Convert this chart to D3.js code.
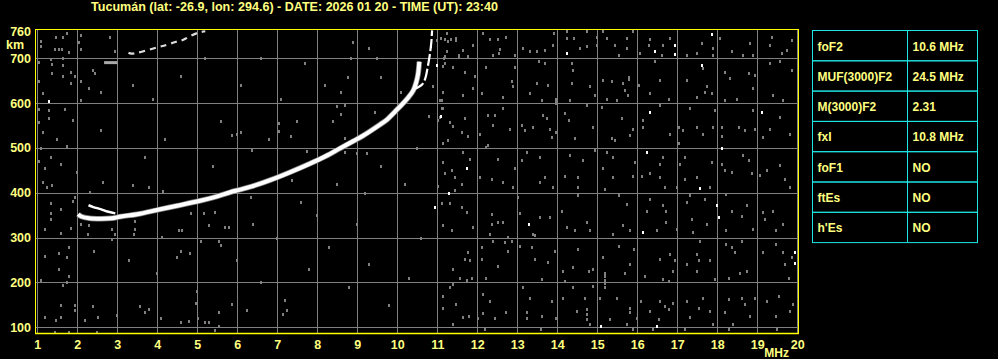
<!DOCTYPE html>
<html>
<head>
<meta charset="utf-8">
<script src="https://cdn.jsdelivr.net/npm/d3@7"></script>
<style>
  body { margin: 0; background: #000; }
  svg { display: block; }
  text { font-family: "Liberation Sans", Arial, sans-serif; font-weight: bold; }
</style>
</head>
<body>
<svg width="998" height="359"></svg>
<script>
// ionogram: Tucuman, 2026-01-20 23:40 UT
var title = "Tucumán (lat: -26.9, lon: 294.6) - DATE: 2026 01 20 - TIME (UT): 23:40";

var xTicks = d3.range(1, 21);                     // MHz
var yTicks = [100, 200, 300, 400, 500, 600, 700]; // km

var paramNames  = ["foF2", "MUF(3000)F2", "M(3000)F2", "fxI", "foF1", "ftEs", "h'Es"];
var paramValues = ["10.6 MHz", "24.5 MHz", "2.31", "10.8 MHz", "NO", "NO", "NO"];

// F2 ordinary trace [MHz, km]
var traceO = [[2.02,352],[2.1,347],[2.3,343],[2.6,342],[2.86,343],[3.1,347],[3.5,352],[4.07,363],
  [4.5,371],[5.07,382],[5.5,392],[5.82,401],[6.07,407],[6.5,418],[6.82,428],[7.3,445],[7.82,465],
  [8.2,481],[8.57,499],[8.9,515],[9.16,528],[9.57,552],[9.73,562],[9.99,585],[10.28,613],
  [10.4,628],[10.47,645],[10.52,665],[10.55,692]];
// extraordinary trace pieces
var traceXlow = [[2.28,372],[2.4,368],[2.6,363],[2.75,358],[2.95,354]];
var traceXhigh = [[10.4,630],[10.5,634],[10.62,641],[10.7,655],[10.75,675],[10.79,695],[10.82,712],[10.85,735],[10.87,762]];
// second hop
var hop2 = [[3.28,712],[3.36,710],[4.0,724],[4.25,730],[4.45,736],[4.6,739],[4.8,748],[5.0,756],[5.2,760]];
var hop2blob = [[2.67,690],[3.0,690]];

// scattered echoes / noise [MHz, km]
var noise = [
  [1.08,739],[1.08,726],[1.48,748],[1.64,748],[1.73,757],[1.45,720],[1.55,720],[1.62,720],[1.78,713],
  [1.05,692],[1.34,697],[1.38,686],[1.65,701],[1.65,684],[1.84,668],[1.95,660],[1.05,648],[1.38,666],
  [1.64,661],[1.83,644],[1.14,623],[1.05,586],[1.3,584],[1.68,586],[1.03,558],[1.3,567],[1.89,562],
  [2.59,540],[1.14,535],[2.08,752],[2.04,735],[2.08,720],[2.82,747],[2.94,715],[2.39,674],[2.44,666],
  [2.1,648],[2.3,633],[2.59,625],[2.08,607],
  [1.19,122],[1.48,116],[1.58,150],[1.58,122],[1.44,89],[1.79,89],[1.95,150],[1.95,138],[2.2,116],
  [2.39,147],[2.53,124],[2.48,89],[2.98,127],[3.57,147],[3.69,134],[3.79,140],[4.09,121],[4.58,111],
  [4.78,114],[5.03,120],[5.2,111],[5.3,111],[4.97,154],[5.44,95],[5.53,133],[5.53,102],[5.88,151],
  [6.23,138],[7.13,129],[7.23,138],
  [5.88,529],[5.99,532],[6.09,536],[7.03,555],[7.03,537],[7.33,527],[6.38,495],[7.73,494],[8.69,523],
  [8.69,491],[8.98,488],[9.24,488],[7.36,428],[6.33,391],
  [8.89,735],[9.29,722],[8.84,700],[8.78,657],[9.59,657],[8.59,625],[10.08,625],[8.49,594],[8.69,596],
  [9.44,581],[8.59,575],[10.79,571],[10.88,639],[11.03,562],
  [11.0,741],[11.23,756],[11.26,739],[11.48,741],[11.23,717],[11.18,700],[11.54,702],[11.38,680],
  [11.13,683],[11.11,607],[11.15,588],[11.07,569],[10.78,571],[11.32,558],[11.38,549],
  [1.13,424],[1.23,413],[1.38,418],[2.32,402],[2.65,424],[3.4,417],[3.78,413],[4.15,404],[1.94,391],
  [1.88,382],[1.34,378],[1.59,363],[1.34,355],[1.34,342],[1.19,320],[1.84,322],[1.59,311],[2.08,330],
  [2.29,329],[2.28,308],[2.88,320],[2.94,308],[3.44,337],[3.44,320],[4.53,318],[4.63,318],[4.84,355],
  [5.17,355],[5.29,329],[5.44,357],[5.09,292],[5.55,292],[5.69,324],[5.8,324],[5.59,283],[4.58,270],
  [4.48,257],[4.83,266],[4.11,302],[3.42,307],[2.88,296],[2.42,270],[1.78,279],[1.53,266],[1.73,256],
  [1.1,500],[1.35,480],[1.6,465],[1.2,455],[1.5,520],[1.75,505],[1.05,470],[1.2,260],[1.55,230],
  [1.1,205],[1.8,215],[1.65,195],[1.75,200],[2.0,446],
  [3.4,640],[3.9,610],[4.6,660],[5.2,700],[5.6,560],[6.1,640],[6.6,700],[7.1,610],[7.7,690],[8.2,640],
  [8.4,560],[9.5,700],[7.5,560],[4.2,520],[3.7,480],[5.4,460],[6.8,520],[3.3,250],[4.0,220],[5.0,180],
  [6.0,250],[6.6,200],[7.2,160],[7.8,230],[8.3,280],[8.8,190],[9.3,240],[9.8,150],[10.3,210],[10.6,300],
  [9.0,330],[8.0,350],[7.0,300],[6.4,330],[10.2,420],[9.6,460],[10.5,500],[9.2,400],[8.5,420],[7.6,380],
  // 11 - 20 MHz
  [11.1,745],[11.2,742],[11.33,742],[11.48,745],[11.54,707],[11.19,704],[11.55,704],[11.78,704],[11.9,730],
  [11.65,719],[12.15,756],[12.32,742],[12.53,742],[12.57,720],[12.4,707],[12.54,711],[12.73,748],
  [12.94,707],[13.13,722],[13.32,715],[13.48,715],[13.69,719],[13.88,730],[13.92,756],[14.23,760],
  [14.23,745],[14.42,745],[14.57,722],[14.75,726],[14.98,730],[14.98,748],[14.73,760],[15.13,760],
  [15.23,745],[15.44,730],[15.73,722],[15.54,707],[15.73,745],[15.9,760],[16.08,711],[16.28,730],
  [16.65,730],[16.61,707],[16.82,745],[16.32,742],[17.23,707],[17.48,711],[17.61,734],[17.9,722],
  [17.9,707],[18.08,745],[18.36,715],[18.82,734],[18.88,707],[18.65,707],[19.32,730],[19.38,748],
  [19.61,711],[19.73,719],[19.86,741],
  [11.19,689],[11.38,680],[11.69,670],[11.94,660],[11.88,633],[11.15,625],[11.07,607],[11.65,618],
  [12.23,680],[12.11,622],[12.86,648],[12.9,637],[12.94,681],[12.65,614],[13.53,693],[13.69,689],
  [13.48,644],[13.78,640],[13.32,622],[13.61,607],[13.98,610],[13.98,604],[13.98,599],[14.36,689],
  [14.4,674],[14.36,644],[14.32,607],[14.82,637],[14.94,618],[15.15,652],[15.36,648],[15.65,644],
  [15.8,659],[15.8,654],[15.68,629],[15.78,618],[15.23,610],[15.48,607],[16.03,640],[16.32,622],
  [16.44,693],[16.78,610],[16.57,652],[17.23,652],[17.48,614],[17.69,625],[17.73,637],[17.88,622],
  [17.65,678],[18.19,670],[18.32,655],[18.78,666],[18.94,663],[18.9,633],[18.48,610],[18.19,607],
  [19.4,618],[19.65,607],[19.33,689],[19.57,693],[19.88,674],
  [11.11,588],[11.32,558],[11.69,566],[11.61,536],[11.78,526],[11.28,517],[11.15,510],[12.28,573],
  [12.44,573],[12.38,551],[12.65,588],[12.28,506],[12.07,532],[12.82,543],[13.11,551],[13.19,540],
  [13.4,547],[13.65,573],[13.73,566],[13.86,525],[13.82,543],[13.98,536],[14.19,577],[14.28,562],
  [14.44,521],[14.73,596],[14.9,547],[15.11,592],[15.36,521],[15.44,517],[15.61,566],[15.82,528],
  [15.9,543],[16.15,562],[16.15,547],[16.82,532],[16.57,596],[17.03,547],[17.03,510],[17.48,547],
  [17.65,532],[17.32,588],[17.15,540],[17.9,547],[17.94,584],[18.13,547],[18.11,526],[18.53,547],
  [18.69,540],[18.9,584],[18.94,543],[19.15,525],[19.32,543],[19.57,569],[19.82,532],
  [11.15,469],[11.19,443],[11.36,450],[11.44,435],[11.65,491],[11.82,476],[11.44,405],[11.03,416],
  [11.61,420],[12.07,435],[12.36,431],[12.53,476],[12.65,424],[12.94,454],[12.23,502],[12.9,413],
  [13.11,472],[13.23,491],[13.57,480],[13.69,435],[13.9,413],[13.57,424],[14.19,437],[14.32,484],
  [14.53,435],[14.65,472],[14.94,495],[14.53,413],[15.15,454],[15.23,491],[15.4,480],[15.4,435],
  [15.94,469],[15.9,437],[15.19,409],[16.11,437],[16.32,443],[16.57,465],[16.57,435],[16.69,413],
  [16.98,413],[16.65,480],[17.19,480],[17.19,431],[17.07,465],[17.48,435],[17.82,413],[17.86,469],
  [18.11,465],[18.19,450],[18.36,446],[18.65,484],[18.86,443],[18.78,472],[19.07,439],[19.23,450],
  [19.57,461],[19.69,431],[19.82,413],
  [11.11,377],[11.32,377],[11.61,368],[11.73,357],[11.9,323],[11.36,317],[11.15,327],[12.36,353],
  [12.36,331],[12.53,334],[12.32,308],[12.78,301],[12.65,334],[13.03,390],[13.07,355],[13.4,308],
  [13.57,346],[13.82,346],[13.44,305],[14.11,360],[14.23,323],[14.44,316],[14.53,394],[14.82,316],
  [14.73,334],[15.4,308],[15.53,394],[15.65,327],[15.82,316],[15.73,375],[16.23,360],[16.32,387],
  [16.65,372],[16.73,360],[16.73,334],[16.48,316],[16.98,320],[17.36,342],[17.23,379],[17.32,394],
  [17.73,331],[17.69,387],[17.4,312],[18.23,317],[18.36,360],[18.61,349],[18.73,372],[18.9,319],
  [18.23,398],[19.15,357],[19.19,342],[19.4,360],[19.65,331],[19.48,316],
  [11.69,252],[11.78,267],[11.82,249],[11.4,230],[11.57,211],[11.73,205],[11.86,211],[11.4,196],
  [12.11,278],[12.4,293],[12.69,290],[12.78,271],[12.86,293],[12.23,211],[12.11,252],[12.53,237],
  [13.07,282],[13.36,280],[13.44,252],[13.78,245],[13.94,271],[13.61,207],[14.15,226],[14.19,204],
  [14.4,234],[14.53,275],[14.78,226],[14.9,230],[14.9,193],[15.19,222],[15.19,214],[15.19,206],
  [15.19,198],[15.19,190],[15.13,256],[15.53,282],[15.82,241],[15.92,275],[15.69,222],[16.19,215],
  [16.57,252],[16.82,263],[16.94,249],[16.9,226],[16.65,207],[16.8,204],[17.23,241],[17.48,263],
  [17.53,249],[17.48,226],[17.82,249],[17.94,207],[17.57,293],[18.23,286],[18.36,278],[18.44,267],
  [18.61,293],[18.73,226],[18.57,222],[18.28,211],[19.15,267],[19.48,286],[19.65,267],[19.69,241],
  [19.86,256],[19.78,211],
  [11.15,170],[11.32,189],[11.48,152],[11.65,123],[11.8,125],[11.4,107],[11.15,144],[12.15,174],
  [12.03,120],[12.15,131],[12.44,120],[12.73,133],[12.32,159],[13.15,189],[13.32,166],[13.23,133],
  [13.23,120],[13.61,125],[13.86,159],[13.98,120],[14.15,166],[14.4,189],[14.69,166],[14.73,140],
  [14.73,130],[14.73,118],[14.82,107],[14.48,137],[15.07,166],[15.32,118],[15.48,166],[15.82,144],
  [15.82,133],[15.73,107],[15.98,120],[16.09,159],[16.32,137],[16.57,159],[16.69,148],[16.78,140],
  [16.9,155],[16.53,118],[17.23,159],[17.32,122],[17.53,144],[17.65,166],[17.82,137],[17.9,107],
  [18.19,133],[18.28,163],[18.4,107],[18.61,166],[18.69,152],[18.94,166],[18.82,125],[19.23,159],
  [19.53,170],[19.48,125],[19.82,137],[19.9,152],
  [15.9,96],[16.4,97],[17.2,96],[18.3,96],[19.5,96],[12.2,97],[13.6,97]
];
// brighter single echoes
var bright = [[10.84,726],[10.98,684],[11.09,571],[11.73,455],[11.29,400],[10.93,368],[13.29,331],
  [14.23,711],[16.44,717],[16.94,730],[16.94,709],[17.88,754],[17.63,684],[16.33,579],[19.13,579],
  [16.23,490],[18.13,500],[17.58,411],[17.98,372],[18.03,346],[16.13,313],[19.94,267],[19.94,243],
  [15.08,104],[16.48,103],[1.3,604]];

var svg = d3.select("svg");
var plot = {left: 36, top: 29, right: 798, bottom: 333};

var x = d3.scaleLinear().domain([1, 20]).range([37.3, 797.3]);
var y = d3.scaleLinear().domain([100, 600]).range([327.3, 103]);

var yellow = "#ffff80";

svg.append("text")
    .attr("x", 91).attr("y", 11)
    .attr("fill", yellow).attr("font-size", 12)
    .attr("textLength", 407).attr("lengthAdjust", "spacingAndGlyphs")
    .text(title);

// grid
var grid = svg.append("g").attr("stroke", "#808080").attr("stroke-width", 1)
    .attr("shape-rendering", "crispEdges");
grid.selectAll(".vx").data(xTicks).enter().append("line")
    .attr("x1", function(d) { return Math.round(x(d)) + 0.5; })
    .attr("x2", function(d) { return Math.round(x(d)) + 0.5; })
    .attr("y1", plot.top).attr("y2", plot.bottom);
grid.selectAll(".hy").data(yTicks).enter().append("line")
    .attr("y1", function(d) { return Math.round(y(d)) + 0.5; })
    .attr("y2", function(d) { return Math.round(y(d)) + 0.5; })
    .attr("x1", plot.left).attr("x2", plot.right);

// noise
svg.append("g").attr("fill", "#808080").attr("shape-rendering", "crispEdges")
  .selectAll("rect").data(noise).enter().append("rect")
    .attr("x", function(d) { return Math.round(x(d[0])) - 1; })
    .attr("y", function(d) { return Math.round(y(d[1])) - 1; })
    .attr("width", 2).attr("height", 3);
svg.append("g").attr("fill", "#ffffff").attr("shape-rendering", "crispEdges")
  .selectAll("rect").data(bright).enter().append("rect")
    .attr("x", function(d) { return Math.round(x(d[0])) - 1; })
    .attr("y", function(d) { return Math.round(y(d[1])) - 1; })
    .attr("width", 2).attr("height", 3);

// traces
var line = d3.line().x(function(d) { return x(d[0]); }).y(function(d) { return y(d[1]); });
var lineY = d3.line().x(function(d) { return x(d[0]); }).y(function(d) { return y(d[1]); })
    .curve(d3.curveCatmullRom);

svg.append("path").datum(traceO).attr("d", lineY)
    .attr("fill", "none").attr("stroke", "#808080").attr("stroke-width", 5.5);
svg.append("path").datum(traceO).attr("d", lineY)
    .attr("fill", "none").attr("stroke", "#fff").attr("stroke-width", 4);
svg.append("path").datum(traceXlow).attr("d", lineY)
    .attr("fill", "none").attr("stroke", "#fff").attr("stroke-width", 2.5);
svg.append("path").datum(traceXhigh).attr("d", lineY)
    .attr("fill", "none").attr("stroke", "#fff").attr("stroke-width", 2.2)
    .attr("stroke-dasharray", "12,3");
svg.append("path").datum(hop2).attr("d", lineY)
    .attr("fill", "none").attr("stroke", "#ddd").attr("stroke-width", 2.2)
    .attr("stroke-dasharray", "6,5");
svg.append("path").datum(hop2blob).attr("d", line)
    .attr("fill", "none").attr("stroke", "#aaa").attr("stroke-width", 3);

// frame
svg.append("rect")
    .attr("x", plot.left - 0.5).attr("y", plot.top + 0.5)
    .attr("width", plot.right - plot.left + 0.5).attr("height", plot.bottom - plot.top)
    .attr("fill", "none").attr("stroke", "#ffff00").attr("stroke-width", 1)
    .attr("shape-rendering", "crispEdges");
svg.append("line")
    .attr("x1", plot.left - 1).attr("x2", plot.right + 0.5)
    .attr("y1", plot.bottom + 0.5).attr("y2", plot.bottom + 0.5)
    .attr("stroke", "#ffff00").attr("stroke-width", 1.5);

// axes
var yAxis = svg.append("g")
    .attr("transform", "translate(" + plot.left + ",0)")
    .call(d3.axisLeft(y).tickValues(yTicks.concat([760])).tickSize(0).tickPadding(5));
var xAxis = svg.append("g")
    .attr("transform", "translate(0," + plot.bottom + ")")
    .call(d3.axisBottom(x).tickValues(xTicks).tickSize(0).tickPadding(7).tickFormat(d3.format("d")));
[yAxis, xAxis].forEach(function(a) {
  a.select(".domain").remove();
  a.selectAll("text").attr("fill", yellow).attr("font-size", 12.5)
      .attr("font-family", "Liberation Sans, Arial, sans-serif").attr("font-weight", "bold");
});

svg.append("text").attr("x", 6).attr("y", 49).attr("fill", yellow)
    .attr("font-size", 12.5).text("km");
svg.append("text").attr("x", 789).attr("y", 357).attr("fill", yellow)
    .attr("text-anchor", "end").attr("font-size", 12).text("MHz");

// parameter table
var tbl = {left: 812, right: 977, mid: 907, top: 30.5, rowH: 30.3};
var rows = svg.append("g").selectAll("g").data(paramNames).enter().append("g")
    .attr("transform", function(d, i) { return "translate(0," + (tbl.top + i * tbl.rowH) + ")"; });
rows.append("rect")
    .attr("x", tbl.left + 0.5).attr("width", tbl.right - tbl.left)
    .attr("y", 0).attr("height", tbl.rowH)
    .attr("fill", "none").attr("stroke", "#1ee6e6").attr("stroke-width", 1);
rows.append("line")
    .attr("x1", tbl.mid + 0.5).attr("x2", tbl.mid + 0.5).attr("y1", 0).attr("y2", tbl.rowH)
    .attr("stroke", "#1ee6e6");
rows.append("text").attr("x", tbl.left + 5.5).attr("y", 20).attr("fill", yellow)
    .attr("font-size", 12).text(function(d) { return d; });
rows.append("text").attr("x", tbl.mid + 5.5).attr("y", 20).attr("fill", yellow)
    .attr("font-size", 12).text(function(d, i) { return paramValues[i]; });
</script>
</body>
</html>
